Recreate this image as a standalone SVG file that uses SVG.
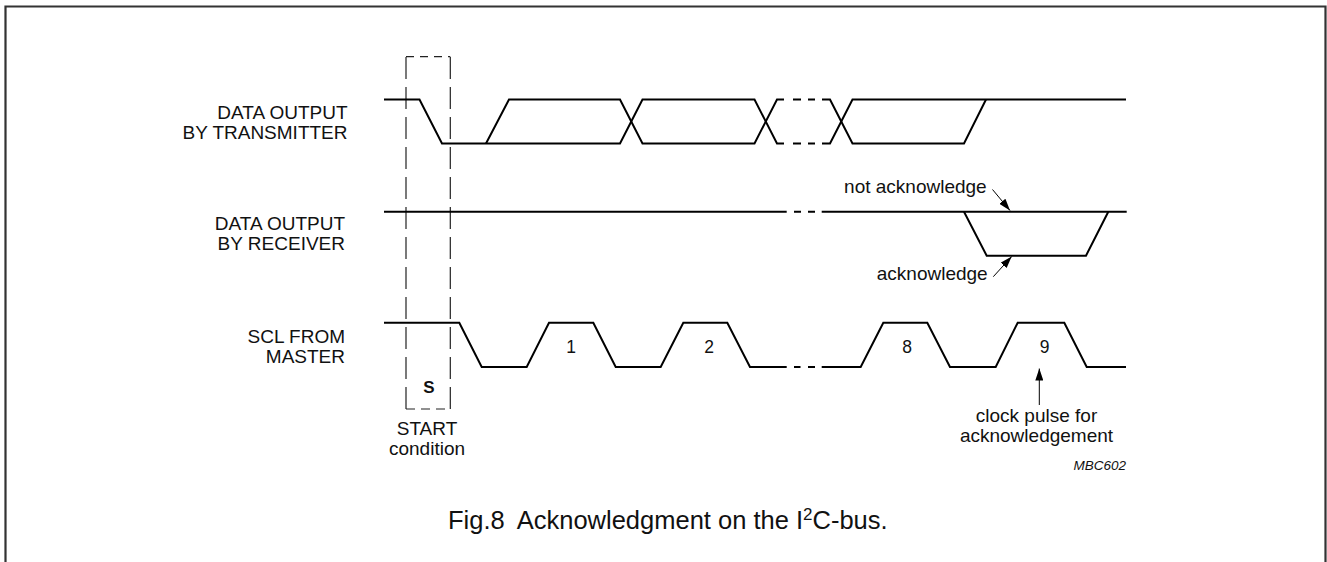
<svg xmlns="http://www.w3.org/2000/svg" width="1327" height="562" viewBox="0 0 1327 562">
  <style>
    .wave { fill: none; stroke: #000; stroke-width: 2; stroke-linejoin: miter; }
    .dash { fill: none; stroke: #000; stroke-width: 2; }
    .box { fill: none; stroke: #222; stroke-width: 1.2; }
    .lbl { font-family: "Liberation Sans", Arial, sans-serif; font-size: 19px; fill: #111; }
    .num { font-family: "Liberation Sans", Arial, sans-serif; font-size: 17.5px; fill: #111; text-anchor: middle; }
    .cap { font-family: "Liberation Sans", Arial, sans-serif; font-size: 25.5px; fill: #111; }
    .ptr { fill: none; stroke: #000; stroke-width: 1; }
  </style>
  <defs>
    <marker id="ah" viewBox="0 0 12 8" refX="12" refY="4" markerWidth="12" markerHeight="8" markerUnits="userSpaceOnUse" orient="auto">
      <path d="M0,0 L12,4 L0,8 Z" fill="#000"/>
    </marker>
  </defs>
  <rect width="1327" height="562" fill="#fff"/>
  <path d="M5.5,562 V6.5 H1325.5 V562" fill="none" stroke="#333" stroke-width="2.2"/>

  <g id="start-box">
    <path class="box" d="M406,409 V56.7" stroke-dasharray="22 8"/>
    <path class="box" d="M450.3,409 V56.7" stroke-dasharray="22 8"/>
    <path class="box" d="M406,56.7 H450.3" stroke-dasharray="8 6"/>
    <path class="box" d="M406,409 H450.3" stroke-dasharray="9 6"/>
    <text x="429" y="393" class="lbl" style="font-weight:bold;font-size:17px" text-anchor="middle">S</text>
    <text x="427" y="435" class="lbl" text-anchor="middle">START</text>
    <text x="427" y="455" class="lbl" text-anchor="middle">condition</text>
  </g>

  <g id="transmitter">
    <text x="347.5" y="119.3" class="lbl" text-anchor="end">DATA OUTPUT</text>
    <text x="347.5" y="139.3" class="lbl" text-anchor="end">BY TRANSMITTER</text>
    <path class="wave" d="M384,99.5 H419.5 L442,143.5 H620 L642.5,99.5 H754.5 L777,143.5 H784"/>
    <path class="wave" d="M486,143.5 L509,99.5 H620 L642.5,143.5 H754.5 L777,99.5 H784"/>
    <path class="dash" d="M793,99.5 H801 M808,99.5 H815 M793,143.5 H801 M808,143.5 H815"/>
    <path class="wave" d="M822,99.5 H830 L852.5,143.5 H964 L986,99.5"/>
    <path class="wave" d="M822,143.5 H830 L852.5,99.5 H1126"/>
  </g>

  <g id="receiver">
    <text x="345" y="229.5" class="lbl" text-anchor="end">DATA OUTPUT</text>
    <text x="345" y="250" class="lbl" text-anchor="end">BY RECEIVER</text>
    <path class="wave" d="M384,211.7 H786.7"/>
    <path class="dash" d="M794,211.7 H801 M808,211.7 H815"/>
    <path class="wave" d="M821.7,211.7 H1126.7"/>
    <path class="wave" d="M964,211.7 L986.7,255.7 H1086 L1108.3,211.7"/>
  </g>

  <g id="scl">
    <text x="345" y="342.7" class="lbl" text-anchor="end">SCL FROM</text>
    <text x="345" y="363.3" class="lbl" text-anchor="end">MASTER</text>
    <path class="wave" d="M384,322.7 H459.3 L481.7,367 H526.7 L549,322.7 H593.3 L615.7,367 H660.7 L683.3,322.7 H727.3 L750,367 H786.7"/>
    <path class="dash" d="M794,367 H800.5 M808,367 H815"/>
    <path class="wave" d="M821.7,367 H860.7 L883.3,322.7 H927.3 L950,367 H995.7 L1017.7,322.7 H1064.3 L1086.7,367 H1126"/>
    <text x="571" y="353.3" class="num">1</text>
    <text x="709" y="353.3" class="num">2</text>
    <text x="907" y="353.3" class="num">8</text>
    <text x="1044.5" y="353.3" class="num">9</text>
  </g>

  <g id="annotations">
    <text x="986.7" y="193.3" class="lbl" text-anchor="end">not acknowledge</text>
    <text x="987.7" y="280" class="lbl" text-anchor="end">acknowledge</text>
    <text x="1036.5" y="422" class="lbl" text-anchor="middle">clock pulse for</text>
    <text x="1036.5" y="442" class="lbl" text-anchor="middle">acknowledgement</text>
    <text x="1126" y="470" class="lbl" text-anchor="end" style="font-style:italic;font-size:13.5px">MBC602</text>
  </g>

  <g id="connectors">
    <line class="ptr" x1="992.5" y1="189.5" x2="1010" y2="210.5" marker-end="url(#ah)"/>
    <line class="ptr" x1="993.3" y1="276.7" x2="1011.7" y2="256.5" marker-end="url(#ah)"/>
    <line class="ptr" x1="1039.3" y1="405" x2="1039.3" y2="368.5" marker-end="url(#ah)"/>
  </g>

  <g id="caption">
    <text x="448" y="529" class="cap">Fig.8<tspan dx="12">Acknowledgment on the I</tspan><tspan dy="-9" font-size="17">2</tspan><tspan dy="9">C-bus.</tspan></text>
  </g>
</svg>
